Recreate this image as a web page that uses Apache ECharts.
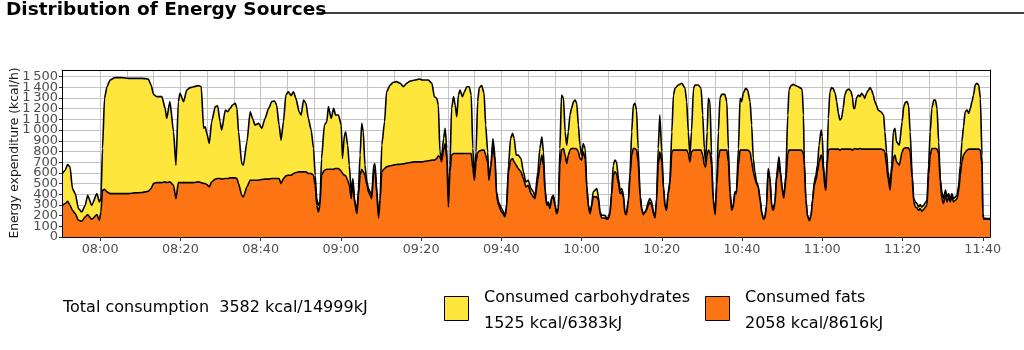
<!DOCTYPE html>
<html>
<head>
<meta charset="utf-8">
<script src="https://cdn.jsdelivr.net/npm/echarts@6/dist/echarts.min.js"></script>
<style>
html,body{margin:0;padding:0;background:#fff;}
#chart{width:1024px;height:350px;}
</style>
</head>
<body>
<div id="chart"></div>
<script>
// ---- Data (time in minutes since midnight, energy in kcal/h) ----
const times = [
470.6,471.3,471.9,472.5,473.1,473.8,474.6,475.4,476.3,476.9,477.9,479.2,479.8,480.2,480.6,481.1,481.7,482.5,483.7,485.4,487.1,488.7,490.4,492.0,492.7,493.3,494.1,495.4,496.2,496.6,497.4,498.3,498.9,499.5,
499.9,500.8,501.6,502.4,503.3,504.5,505.2,505.8,506.2,506.6,507.2,507.8,508.7,509.3,509.9,510.3,511.2,511.8,512.4,513.0,513.7,514.1,514.5,515.3,515.7,516.6,517.4,518.0,518.6,519.5,520.3,521.1,522.0,522.8,523.5,524.0,524.6,525.1,525.7,526.3,526.9,527.6,528.2,528.8,529.6,
530.1,530.7,531.3,531.9,532.6,533.2,533.6,534.0,534.4,534.8,535.2,535.9,536.5,536.9,537.6,538.2,538.7,539.4,540.1,540.4,540.9,541.2,541.7,542.1,542.6,543.0,543.4,544.0,544.4,544.8,545.2,545.6,546.0,546.5,546.9,547.3,547.7,548.2,548.5,548.9,549.4,549.8,550.2,550.9,551.4,552.3,553.1,553.9,554.8,555.6,556.4,557.3,558.5,559.7,
560.2,561.8,562.7,563.3,563.9,564.3,564.7,565.1,565.6,566.0,566.4,566.8,567.2,567.6,568.1,568.5,568.9,569.3,569.7,570.3,570.8,571.4,572.0,572.5,572.9,573.3,573.7,574.1,574.5,575.1,575.7,576.1,576.6,576.9,577.4,577.9,578.4,578.8,579.3,580.1,580.9,581.3,581.8,582.3,582.8,583.2,583.7,584.2,584.9,585.5,586.1,586.7,587.4,588.0,
588.4,589.1,589.6,590.1,590.5,590.9,591.3,591.7,592.1,592.6,593.0,593.4,593.8,594.2,594.6,595.0,595.5,595.9,596.3,596.7,597.1,597.5,598.0,598.4,598.8,599.2,599.6,600.0,600.4,600.9,601.3,601.7,602.1,602.5,602.9,603.4,603.8,604.2,604.6,605.0,605.8,606.3,606.7,607.1,607.5,607.9,608.3,608.7,609.2,609.6,610.0,610.4,610.8,611.2,611.7,612.1,612.5,612.9,613.3,613.7,614.1,614.6,615.0,615.4,615.8,616.2,616.6,617.0,617.5,617.9,618.3,618.7,619.1,619.5,
620.0,620.4,620.8,621.2,621.6,622.0,622.5,622.9,623.3,624.1,625.0,625.8,626.2,626.6,627.0,627.4,627.9,628.3,629.1,629.8,630.2,630.6,630.9,631.3,631.6,632.0,632.4,632.8,633.3,633.7,634.1,634.5,634.9,635.7,636.2,636.6,637.0,637.4,637.8,638.2,638.6,639.1,639.5,639.9,640.3,640.9,641.4,642.0,642.4,642.8,643.2,643.6,644.0,644.5,644.9,645.3,645.7,646.1,646.5,646.9,647.4,647.8,648.2,648.6,
649.2,649.6,650.0,650.4,650.9,651.4,651.7,652.2,652.8,653.3,654.0,654.7,655.0,655.3,655.5,655.9,656.3,656.8,657.2,657.6,658.0,658.4,658.8,659.2,659.7,660.0,660.3,660.7,660.9,661.2,661.5,661.9,662.3,662.7,663.2,663.6,664.0,664.4,664.8,665.2,665.6,666.1,666.6,667.1,667.5,667.8,668.1,668.5,669.0,669.4,669.8,670.2,670.6,671.0,671.5,671.9,672.3,672.7,673.1,673.5,673.9,674.6,675.3,675.6,676.0,676.4,676.9,677.3,677.7,678.1,678.5,
679.2,679.9,680.3,680.7,681.1,681.5,681.9,682.4,682.8,683.2,683.6,684.0,684.4,684.8,685.3,685.7,686.1,686.5,686.9,687.3,687.8,688.2,688.6,689.0,689.4,689.8,690.2,690.7,691.1,691.5,691.9,692.3,692.7,693.2,693.6,694.0,694.4,694.8,695.2,695.6,696.1,696.5,696.9,697.3,697.7,698.1,698.5,699.0,699.4,699.8,700.0,700.2,701.0,701.8
];
const totalKcal = [
594,625,678,656,453,406,266,234,297,391,297,406,328,359,828,1297,1406,1469,1491,1491,1484,1484,1484,1478,1422,1334,1313,1313,1203,1109,1266,984,672,1266,
1344,1266,1375,1397,1406,1416,1406,1016,1031,969,875,1078,1219,1228,1078,1000,1188,1172,1203,1234,1250,1203,984,688,672,891,1172,1109,1047,1063,1016,1109,1203,1266,1272,1234,1047,906,1078,1328,1359,1322,1359,1297,1172,
1141,1281,1250,1109,1000,828,578,359,297,328,734,1047,1078,1219,1109,1203,1141,1141,1047,734,953,984,859,672,422,547,359,234,453,766,1063,984,672,516,453,422,391,672,688,484,188,359,859,1078,1359,1422,1447,1453,1438,1406,1438,1459,1469,1478,
1469,1469,1438,1313,1297,1234,797,734,922,1016,828,297,672,1203,1313,1234,1125,1328,1375,1313,1359,1406,1406,1328,828,547,797,1266,1397,1416,1344,1047,797,547,672,922,766,422,328,266,203,297,672,922,969,922,766,766,734,609,516,531,453,422,
375,609,828,938,797,453,313,328,281,375,391,297,234,266,828,1328,1297,984,859,984,1141,1203,1266,1281,1250,1047,859,766,875,828,484,297,234,297,422,438,453,375,234,203,203,172,188,234,422,672,719,703,547,438,453,406,234,219,359,609,984,1234,1250,1188,828,391,266,219,234,266,328,359,328,234,188,359,828,1141,
797,484,297,266,422,516,984,1328,1391,1422,1438,1391,1266,984,766,984,1391,1422,1422,1391,1141,828,703,984,1297,1266,766,359,219,516,984,1297,1334,1334,1266,828,422,266,297,422,422,828,1297,1266,1344,1391,1375,1266,1047,734,609,516,484,359,234,172,188,297,641,578,297,266,328,578,
750,609,453,375,578,1141,1375,1416,1428,1416,1406,1391,1375,1141,734,359,203,156,203,359,516,578,672,859,1000,938,672,484,453,734,1109,1359,1397,1391,1344,1266,1156,1094,1109,1203,1328,1375,1384,1366,1313,1203,1203,1297,1328,1313,1344,1328,1297,1344,1375,1397,1375,1328,1266,1234,1188,1172,1141,984,797,609,484,672,984,1016,891,
859,1078,1219,1259,1266,1234,984,578,359,328,313,281,303,281,297,322,344,672,984,1203,1281,1281,1203,891,547,422,359,438,375,406,359,406,359,375,391,484,672,891,1031,1172,1188,1156,1203,1266,1328,1422,1438,1422,1297,766,234,178,172,172
];
const fatKcal = [
297,313,334,297,250,219,156,147,188,209,166,209,156,234,438,447,422,406,406,406,406,413,416,428,453,500,509,509,516,509,516,484,359,509,
509,509,509,509,509,516,509,500,500,491,469,516,541,547,547,541,547,547,553,553,553,547,500,391,375,469,531,531,531,531,538,541,541,547,547,547,547,500,547,572,578,578,594,603,609,
609,609,609,594,594,578,484,297,234,297,578,625,634,634,634,634,641,641,616,594,578,572,531,484,359,516,328,219,391,578,634,609,578,484,422,391,359,609,634,422,178,344,609,641,656,666,672,678,681,684,691,697,703,703,
703,713,719,719,734,759,750,703,813,875,734,281,609,766,781,781,781,781,781,781,781,781,781,781,641,531,703,791,803,813,813,766,703,531,656,859,719,391,297,234,188,266,609,719,734,703,672,641,609,547,469,484,406,375,
359,531,672,766,672,422,297,313,266,359,375,281,219,250,672,813,828,766,688,766,813,828,828,828,822,797,734,719,797,734,453,281,219,281,375,375,375,344,219,178,178,166,172,219,391,578,609,594,500,406,422,375,219,209,344,578,766,828,828,813,703,375,250,209,228,250,297,328,297,219,178,328,672,797,
703,453,281,250,406,484,797,813,813,813,813,813,813,781,703,797,813,813,813,813,766,672,656,766,813,797,672,344,209,484,734,813,813,813,813,703,406,250,281,406,406,672,813,813,813,813,813,797,703,609,547,500,469,344,219,166,178,281,609,547,281,250,313,531,
688,578,438,366,516,781,813,813,813,813,813,813,803,781,672,344,194,153,194,344,484,531,609,703,766,734,609,453,438,672,813,822,822,822,822,822,822,813,822,822,822,822,822,822,813,822,828,822,822,828,822,822,822,822,822,822,822,822,822,822,822,822,813,797,672,547,438,609,734,766,703,
672,797,828,834,834,834,797,547,328,281,272,250,266,241,259,281,297,578,766,828,828,828,822,781,516,359,313,391,328,375,328,375,328,344,359,438,578,703,766,791,813,822,822,822,822,822,822,822,813,672,219,166,166,166
];
const xTickLabels = ['08:00','08:20','08:40','09:00','09:20','09:40','10:00','10:20','10:40','11:00','11:20','11:40'];
const yTickValues = [0,100,200,300,400,500,600,700,800,900,1000,1100,1200,1300,1400,1500];
const seriesNames = ['Consumed carbohydrates', 'Consumed fats'];
const seriesTotals = ['1525 kcal/6383kJ', '2058 kcal/8616kJ'];
const totalConsumption = '3582 kcal/14999kJ';

// ---- Layout / styling ----
const X_MIN = 470.5, X_MAX = 701.8, Y_MAX = 1562;
const YELLOW = '#FFE63C', ORANGE = '#FC7414';
const FONT = 'DejaVu Sans';
const toMin = s => { const p = s.split(':').map(Number); return p[0] * 60 + p[1]; };
const labelMinutes = xTickLabels.map(toMin);
const fmtTime = v => {
  const m = Math.round(v);
  return String(Math.floor(m / 60)).padStart(2, '0') + ':' + String(m % 60).padStart(2, '0');
};
const gridStep = 20 / 3;
const gridMinutes = [];
for (let g = labelMinutes[0] - gridStep * Math.floor((labelMinutes[0] - X_MIN) / gridStep); g < X_MAX; g += gridStep) {
  gridMinutes.push(+g.toFixed(4));
}
// split y labels into two interleaved sets so no label is auto-hidden
const yEven = yTickValues.filter((v, i) => i % 2 === 0);
const yOdd = yTickValues.filter((v, i) => i % 2 === 1);
const fmtY = v => {
  if (v >= 1000) return Math.floor(v / 1000) + '\u2009' + String(v % 1000).padStart(3, '0');
  return String(v);
};
const yLabelStyle = {show: true, formatter: fmtY, color: '#4d4d4d', fontFamily: FONT, fontSize: 13, margin: 4,
                     showMinLabel: true, showMaxLabel: true, hideOverlap: false};

const chart = echarts.init(document.getElementById('chart'), null, {renderer: 'canvas'});
const gridColor = '#c3c3c3';
chart.setOption({
  animation: false,
  backgroundColor: '#fff',
  grid: {left: 62, right: 34, top: 70, bottom: 113, containLabel: false, show: false},
  xAxis: [
    {type: 'value', min: X_MIN, max: X_MAX, position: 'bottom', z: 0,
     axisLine: {show: false}, axisLabel: {show: false},
     axisTick: {show: false, customValues: gridMinutes},
     splitLine: {show: true, showMinLine: false, showMaxLine: false, lineStyle: {color: gridColor, width: 1}}},
    {type: 'value', min: X_MIN, max: X_MAX, position: 'bottom', z: 10,
     axisLine: {show: true, onZero: false, lineStyle: {color: '#000', width: 1}},
     axisTick: {show: true, length: 4, customValues: labelMinutes, lineStyle: {color: '#333'}},
     axisLabel: {show: true, customValues: labelMinutes, formatter: fmtTime, color: '#4d4d4d', fontFamily: FONT, fontSize: 12.8, margin: 6},
     splitLine: {show: false}},
    {type: 'value', min: X_MIN, max: X_MAX, position: 'top', z: 10,
     axisLine: {show: true, onZero: false, lineStyle: {color: '#000', width: 1}},
     axisTick: {show: false}, axisLabel: {show: false}, splitLine: {show: false}}
  ],
  yAxis: [
    {type: 'value', min: 0, max: Y_MAX, interval: 100, position: 'left', z: 0,
     axisLine: {show: false}, axisLabel: {show: false}, axisTick: {show: false},
     splitLine: {show: true, showMinLine: false, showMaxLine: false, lineStyle: {color: gridColor, width: 1}}},
    {type: 'value', min: 0, max: Y_MAX, position: 'left', z: 10,
     axisLine: {show: true, onZero: false, lineStyle: {color: '#000', width: 1}},
     axisTick: {show: true, length: 3, customValues: yTickValues, lineStyle: {color: '#333'}},
     axisLabel: Object.assign({customValues: yEven}, yLabelStyle),
     splitLine: {show: false}},
    {type: 'value', min: 0, max: Y_MAX, position: 'left', z: 10,
     axisLine: {show: false}, axisTick: {show: false},
     axisLabel: Object.assign({customValues: yOdd}, yLabelStyle),
     splitLine: {show: false}},
    {type: 'value', min: 0, max: Y_MAX, position: 'right', z: 10,
     axisLine: {show: true, onZero: false, lineStyle: {color: '#000', width: 1}},
     axisTick: {show: false}, axisLabel: {show: false}, splitLine: {show: false}}
  ],
  series: [
    {name: 'total', type: 'line', xAxisIndex: 0, yAxisIndex: 0, z: 2,
     data: times.map((t, i) => [t, totalKcal[i]]),
     symbol: 'none', smooth: 0.2, smoothMonotone: 'x',
     lineStyle: {color: '#000', width: 1.6},
     areaStyle: {color: YELLOW, opacity: 1}},
    {name: 'fats', type: 'line', xAxisIndex: 0, yAxisIndex: 0, z: 3,
     data: times.map((t, i) => [t, fatKcal[i]]),
     symbol: 'none', smooth: 0.2, smoothMonotone: 'x',
     lineStyle: {color: '#000', width: 1.6},
     areaStyle: {color: ORANGE, opacity: 1}}
  ],
  graphic: [
    {type: 'text', x: 6, y: 10, z: 100,
     style: {text: 'Distribution of Energy Sources', fontFamily: FONT, fontWeight: 'bold', fontSize: 18.5, fill: '#000', verticalAlign: 'middle', align: 'left'}},
    {type: 'line', z: 99, shape: {x1: 317, y1: 13, x2: 1024, y2: 13}, style: {stroke: '#000', lineWidth: 1.5}},
    {type: 'text', x: 15, y: 153, rotation: Math.PI / 2, z: 100,
     style: {text: 'Energy expenditure (kcal/h)', fontFamily: FONT, fontSize: 12.3, fill: '#1a1a1a', align: 'center', verticalAlign: 'middle'}},
    {type: 'text', x: 63, y: 308, z: 100,
     style: {text: 'Total consumption  ' + totalConsumption, fontFamily: FONT, fontSize: 16, fill: '#000', verticalAlign: 'middle'}},
    {type: 'rect', shape: {x: 444.5, y: 296.5, width: 24, height: 24}, z: 100, style: {fill: YELLOW, stroke: '#000', lineWidth: 1}},
    {type: 'text', x: 484, y: 298, z: 100,
     style: {text: seriesNames[0], fontFamily: FONT, fontSize: 16, fill: '#000', verticalAlign: 'middle'}},
    {type: 'text', x: 484, y: 324, z: 100,
     style: {text: seriesTotals[0], fontFamily: FONT, fontSize: 16, fill: '#000', verticalAlign: 'middle'}},
    {type: 'rect', shape: {x: 705.5, y: 296.5, width: 24, height: 24}, z: 100, style: {fill: ORANGE, stroke: '#000', lineWidth: 1}},
    {type: 'text', x: 745, y: 298, z: 100,
     style: {text: seriesNames[1], fontFamily: FONT, fontSize: 16, fill: '#000', verticalAlign: 'middle'}},
    {type: 'text', x: 745, y: 324, z: 100,
     style: {text: seriesTotals[1], fontFamily: FONT, fontSize: 16, fill: '#000', verticalAlign: 'middle'}}
  ]
});
</script>
</body>
</html>
